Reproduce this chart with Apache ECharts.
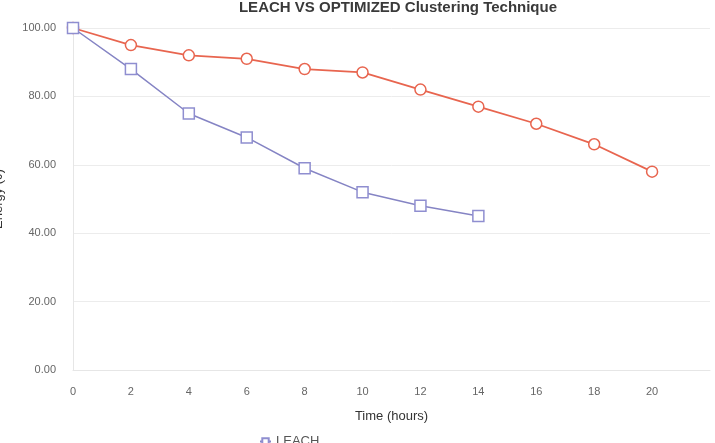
<!DOCTYPE html>
<html>
<head>
<meta charset="utf-8">
<script src="https://cdn.jsdelivr.net/npm/echarts@6/dist/echarts.min.js"></script>
<style>
  html, body { margin: 0; padding: 0; background: #fff; }
  #chart { width: 715px; height: 443px; }
</style>
</head>
<body>
<div id="chart"></div>
<script>
// LEACH vs optimized clustering, energy left over time
const hours = [0, 2, 4, 6, 8, 10, 12, 14, 16, 18, 20];
const leachEnergy = [100, 88, 75, 68, 59, 52, 48, 45];
const optimizedEnergy = [100, 95, 92, 91, 88, 87, 82, 77, 72, 66, 58];

const toPairs = (vals) => vals.map((v, i) => [hours[i], v]);

const chart = echarts.init(document.getElementById('chart'));

const option = {
  backgroundColor: '#fff',
  title: {
    text: 'LEACH VS OPTIMIZED Clustering Technique',
    left: 393,
    textAlign: 'center',
    top: -5,
    textStyle: { color: '#3a3a3a', fontSize: 15, fontWeight: 'bold', fontFamily: 'Liberation Sans' }
  },
  legend: {
    left: 254,
    top: 430,
    itemWidth: 11,
    itemHeight: 8,
    itemGap: 10,
    textStyle: { color: '#555', fontSize: 13, fontFamily: 'Liberation Sans' },
    data: ['LEACH']
  },
  grid: { left: 73, right: 5, top: 28, bottom: 73, containLabel: false, outerBoundsMode: 'none' },
  xAxis: {
    type: 'value',
    min: 0,
    max: 22,
    interval: 2,
    name: 'Time (hours)',
    nameLocation: 'middle',
    nameGap: 40,
    nameTextStyle: { color: '#333', fontSize: 13, fontFamily: 'Liberation Sans' },
    axisLine: { lineStyle: { color: '#e6e6e6' } },
    axisTick: { show: false },
    axisLabel: {
      color: '#666', fontSize: 11, margin: 16,
      formatter: (v) => (v > 20 ? '' : v)
    },
    splitLine: { show: false }
  },
  yAxis: {
    type: 'value',
    min: 0,
    max: 100,
    interval: 20,
    name: 'Energy (J)',
    nameLocation: 'middle',
    nameGap: 68,
    nameTextStyle: { color: '#333', fontSize: 13, fontFamily: 'Liberation Sans' },
    axisLine: { show: true, lineStyle: { color: '#e6e6e6' } },
    axisTick: { show: false },
    axisLabel: {
      color: '#666', fontSize: 11, margin: 17,
      formatter: (v) => v.toFixed(2)
    },
    splitLine: { lineStyle: { color: '#ececec' } }
  },
  series: [
    {
      name: 'LEACH',
      type: 'line',
      data: toPairs(leachEnergy),
      symbol: 'rect',
      symbolSize: 11,
      z: 3,
      lineStyle: { color: '#8584c4', width: 1.5 },
      itemStyle: { color: '#fff', borderColor: '#8f8ed0', borderWidth: 1.5 }
    },
    {
      name: 'OPTIMIZED',
      type: 'line',
      data: toPairs(optimizedEnergy),
      symbol: 'circle',
      symbolSize: 11,
      z: 2,
      lineStyle: { color: '#e8654f', width: 1.8 },
      itemStyle: { color: '#fff', borderColor: '#e8654f', borderWidth: 1.5 }
    }
  ]
};

chart.setOption(option);
</script>
</body>
</html>
